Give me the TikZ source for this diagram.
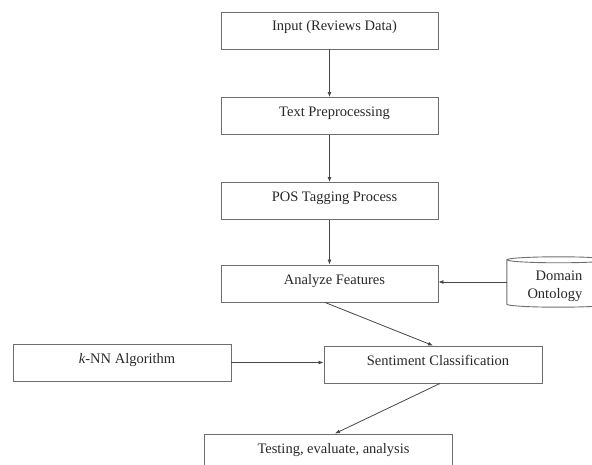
\documentclass[tikz,border=0pt]{standalone}
\usepackage{fontspec}
\setmainfont{Liberation Serif}
\usetikzlibrary{arrows.meta,calc}
\definecolor{bordergray}{RGB}{110,110,110}
\definecolor{linegray}{RGB}{70,70,70}
\definecolor{textgray}{RGB}{40,40,40}
\begin{document}
\begin{tikzpicture}[x=1pt,y=1pt,
  box/.style={draw=bordergray, line width=0.9pt, rectangle, minimum width=217pt, minimum height=37pt,
    text height=10pt, text depth=9pt, inner sep=0pt, text=textgray,
    font=\fontsize{14.5}{17}\selectfont, execute at begin node=\hspace*{10pt}},
  conn/.style={draw=linegray, line width=0.8pt, -{Latex[length=5pt,width=4pt]}}
]
\useasboundingbox (0,0) rectangle (592,-465);
\clip (0,0) rectangle (592,-465);

\node[box] (in) at (329.5,-30.5) {Input (Reviews Data)};
\node[box] (tp) at (329.5,-116) {Text Preprocessing};
\node[box] (pos) at (329.5,-201) {POS Tagging Process};
\node[box] (an) at (329.5,-283.5) {Analyze Features};
\node[box, minimum width=218pt] (se) at (433,-364.5) {Sentiment Classification};
\node[box, minimum width=218pt] (kn) at (122,-362.5) {\textit{k}-NN Algorithm};
\node[box, minimum width=248pt] (te) at (328.5,-452.5) {Testing, evaluate, analysis};

% Domain Ontology cylinder
\node[minimum width=103pt, minimum height=50pt, inner sep=0pt] (db) at (558.5,-282) {};
\draw[draw=bordergray, line width=0.9pt, fill=white]
  ($(db.north west)+(0,-3)$) -- ($(db.south west)+(0,3)$)
  arc[start angle=180, end angle=360, x radius=51.5pt, y radius=3pt]
  -- ($(db.north east)+(0,-3)$);
\draw[draw=bordergray, line width=0.9pt]
  ($(db.north)+(0,-3)$) ellipse[x radius=51.5pt, y radius=3pt];
\node[anchor=east, align=right, inner sep=0pt, text=textgray,
  font=\fontsize{14.5}{17.6}\selectfont] (dbt) at (582.5,-286) {Domain\\Ontology};

\draw[conn] (in.south) -- (tp.north);
\draw[conn] (tp.south) -- (pos.north);
\draw[conn] (pos.south) -- (an.north);
\draw[conn] (db.west) -- (db.west -| an.east);
\draw[conn] ([xshift=-4.5pt]an.south) -- (se.north);
\draw[conn] (kn.east) -- (kn.east -| se.west);
\draw[conn] ([xshift=7pt]se.south) -- ([xshift=6.5pt]te.north);
\end{tikzpicture}
\end{document}
